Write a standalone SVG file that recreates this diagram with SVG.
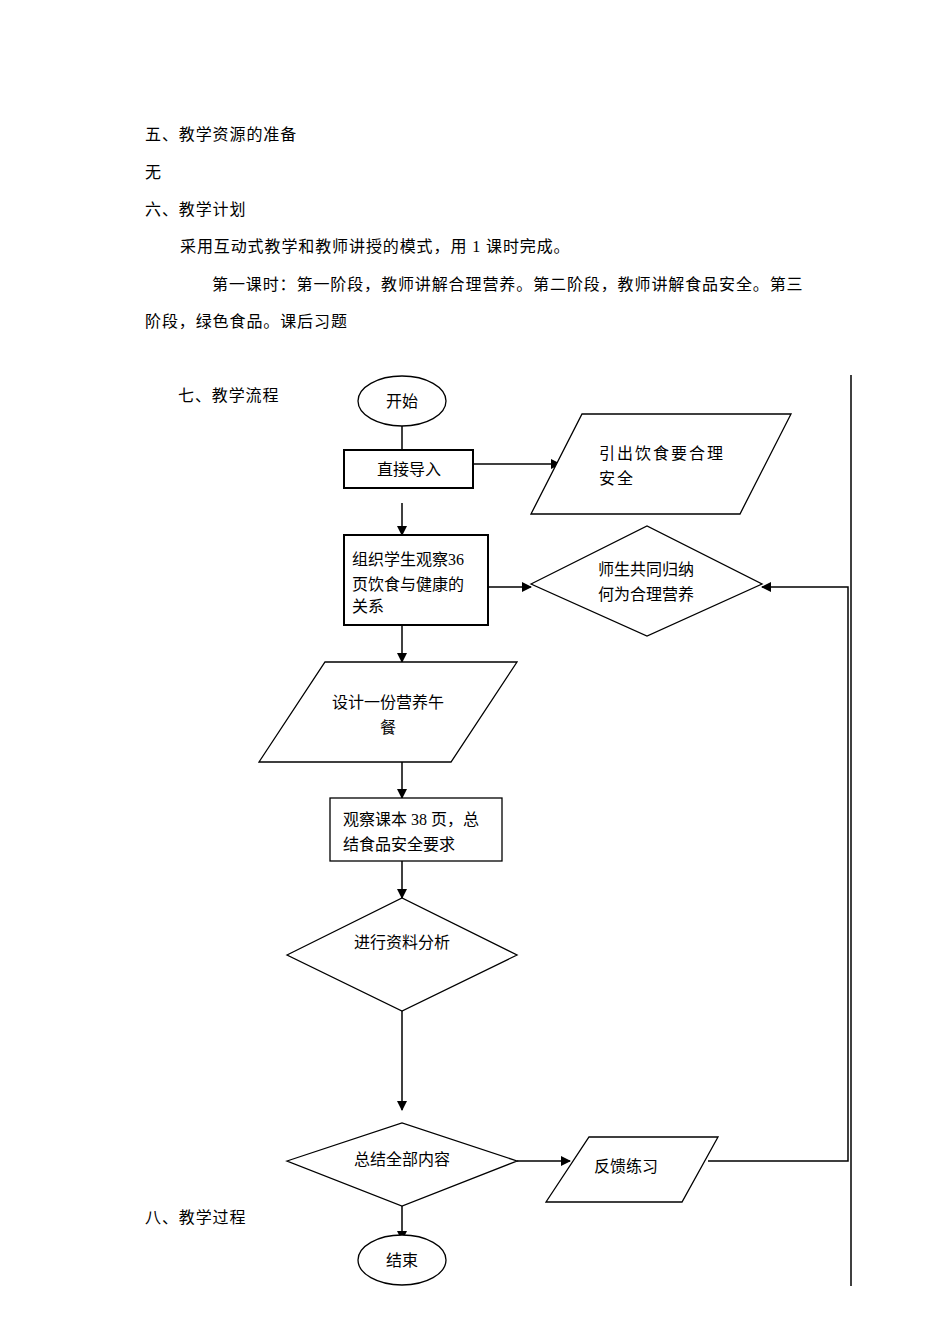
<svg xmlns="http://www.w3.org/2000/svg" width="950" height="1344" viewBox="0 0 950 1344">
<style>
text{font-family:"Liberation Serif","Noto Sans CJK SC",serif;font-size:16px;fill:#000}
.h text{letter-spacing:0.9px}
.s{fill:#fff;stroke:#000;stroke-width:1.3}
.b{fill:#fff;stroke:#000;stroke-width:2}
.c{fill:none;stroke:#000;stroke-width:1.5}
.m{text-anchor:middle}
</style>
<defs><marker id="a" markerWidth="10" markerHeight="10" refX="9" refY="5" orient="auto" markerUnits="userSpaceOnUse"><path d="M0,0 L10,5 L0,10 z" fill="#000"/></marker></defs>
<rect width="950" height="1344" fill="#fff"/>
<g id="header" class="h">
<text x="145" y="140">五、教学资源的准备</text>
<text x="145" y="178">无</text>
<text x="145" y="215">六、教学计划</text>
<text x="180" y="252">采用互动式教学和教师讲授的模式，用 1 课时完成。</text>
<text x="212" y="290">第一课时：第一阶段，教师讲解合理营养。第二阶段，教师讲解食品安全。第三</text>
<text x="145" y="327">阶段，绿色食品。课后习题</text>
<text x="178" y="401">七、教学流程</text>
<text x="145" y="1223">八、教学过程</text>
</g>
<g id="connectors">
<line class="c" x1="402" y1="426" x2="402" y2="450"/>
<line class="c" x1="473" y1="464" x2="560" y2="464" marker-end="url(#a)"/>
<line class="c" x1="402" y1="503" x2="402" y2="535" marker-end="url(#a)"/>
<line class="c" x1="488" y1="587" x2="531" y2="587" marker-end="url(#a)"/>
<line class="c" x1="402" y1="625" x2="402" y2="662" marker-end="url(#a)"/>
<line class="c" x1="402" y1="762" x2="402" y2="798" marker-end="url(#a)"/>
<line class="c" x1="402" y1="861" x2="402" y2="898" marker-end="url(#a)"/>
<line class="c" x1="402" y1="1011" x2="402" y2="1110" marker-end="url(#a)"/>
<line class="c" x1="517" y1="1161" x2="570" y2="1161" marker-end="url(#a)"/>
<polyline class="c" points="708,1161 848,1161 848,587 762,587" marker-end="url(#a)"/>
<line class="c" x1="402" y1="1206" x2="402" y2="1240" marker-end="url(#a)"/>
<line class="c" x1="851" y1="375" x2="851" y2="1286"/>
</g>
<g id="start"><ellipse class="s" cx="402" cy="401" rx="44" ry="25"/><text class="m" x="402" y="407">开始</text></g>
<g id="intro"><rect class="b" x="344" y="450" width="129" height="38"/><text class="m" x="409" y="475">直接导入</text></g>
<g id="safe"><polygon class="s" points="531,514 582,414 791,414 740,514"/><text x="599" y="459" letter-spacing="2">引出饮食要合理</text><text x="599" y="484" letter-spacing="2">安全</text></g>
<g id="observe36"><rect class="b" x="344" y="535" width="144" height="90"/><text x="352" y="565">组织学生观察36</text><text x="352" y="590">页饮食与健康的</text><text x="352" y="612">关系</text></g>
<g id="summarize"><polygon class="s" points="531,584 647,526 762,584 647,636"/><text class="m" x="646" y="575">师生共同归纳</text><text class="m" x="646" y="600">何为合理营养</text></g>
<g id="design"><polygon class="s" points="259,762 325,662 517,662 451,762"/><text class="m" x="388" y="708">设计一份营养午</text><text class="m" x="388" y="733">餐</text></g>
<g id="observe38"><rect class="s" x="330" y="798" width="172" height="63"/><text x="343" y="825">观察课本 38 页，总</text><text x="343" y="850">结食品安全要求</text></g>
<g id="analyze"><polygon class="s" points="287,955 402,898 517,955 402,1011"/><text class="m" x="402" y="948">进行资料分析</text></g>
<g id="all"><polygon class="s" points="287,1161 402,1123 517,1161 402,1206"/><text class="m" x="402" y="1165">总结全部内容</text></g>
<g id="feedback"><polygon class="s" points="546,1202 589,1137 718,1137 682,1202"/><text class="m" x="626" y="1172">反馈练习</text></g>
<g id="end"><ellipse class="s" cx="402" cy="1260" rx="44" ry="25"/><text class="m" x="402" y="1266">结束</text></g>
</svg>
